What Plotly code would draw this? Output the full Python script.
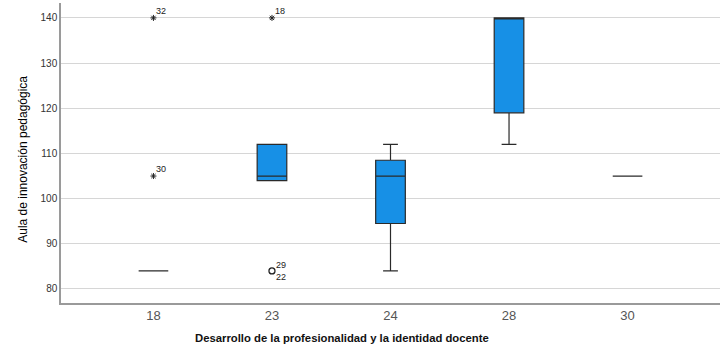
import plotly.graph_objects as go

categories = ["18", "23", "24", "28", "30"]
q1 = [84, 104, 94.5, 119, 105]
median = [84, 105, 105, 140, 105]
q3 = [84, 112, 108.5, 140, 105]
lower = [84, 104, 84, 112, 105]
upper = [84, 112, 112, 140, 105]

star_x = ["18", "18", "23"]
star_y = [140, 105, 140]
star_lbl = ["32", "30", "18"]

circ_x = ["23"]
circ_y = [84]
circ_lbl_top = ["29"]
circ_lbl_bot = ["22"]

yticks = [80, 90, 100, 110, 120, 130, 140]

x_title = "Desarrollo de la profesionalidad y la identidad docente"
y_title = "Aula de innovación pedagógica"

fig = go.Figure()
fig.add_trace(go.Box(
    x=categories, q1=q1, median=median, q3=q3,
    lowerfence=lower, upperfence=upper,
    fillcolor="#1790E6", line=dict(color="#2a2a2a", width=1.2),
    width=0.25, whiskerwidth=0.5, boxpoints=False, showlegend=False,
    hoverinfo="skip",
))
fig.add_trace(go.Scatter(
    x=star_x, y=star_y, mode="markers",
    marker=dict(symbol="asterisk-open", size=5, color="#222",
                line=dict(color="#222", width=1)),
    showlegend=False, hoverinfo="skip"))
fig.add_trace(go.Scatter(
    x=circ_x, y=circ_y, mode="markers",
    marker=dict(symbol="circle-open", size=6, color="#222",
                line=dict(color="#222", width=1.3)),
    showlegend=False, hoverinfo="skip"))

def cidx(c):
    return categories.index(c)

lab_font = dict(size=9, color="#222", family="Liberation Sans")
for x, y, t in zip(star_x, star_y, star_lbl):
    fig.add_annotation(x=cidx(x), y=y, text=t, showarrow=False, xshift=8, yshift=7,
                       font=lab_font)
for x, y, t in zip(circ_x, circ_y, circ_lbl_top):
    fig.add_annotation(x=cidx(x), y=y, text=t, showarrow=False, xshift=9, yshift=6,
                       font=lab_font)
for x, y, t in zip(circ_x, circ_y, circ_lbl_bot):
    fig.add_annotation(x=cidx(x), y=y, text=t, showarrow=False, xshift=9, yshift=-6,
                       font=lab_font)

# axis titles as paper annotations (positioned as in the reference)
fig.add_annotation(xref="paper", yref="paper", x=0.4257, y=-0.117,
                   yanchor="middle", xanchor="center", showarrow=False,
                   text="<b>" + x_title + "</b>",
                   font=dict(size=11.3, color="#111", family="Liberation Sans"))
fig.add_annotation(xref="paper", yref="paper", x=-0.058, y=0.48,
                   xanchor="center", yanchor="middle", showarrow=False,
                   textangle=-90, text=y_title,
                   font=dict(size=12, color="#000", family="Liberation Sans"))

fig.update_layout(
    width=728, height=354,
    margin=dict(l=61, r=8, t=3, b=51),
    paper_bgcolor="white", plot_bgcolor="white",
    font=dict(family="Liberation Sans", color="#333"),
    xaxis=dict(type="category", categoryorder="array", categoryarray=categories,
               range=[-0.78, 4.78], showgrid=False, showline=True,
               linecolor="#9a9a9a", linewidth=1.5, ticks="", automargin=False,
               tickfont=dict(size=13, color="#555")),
    yaxis=dict(range=[76.9, 143.3], tickvals=yticks, showgrid=True,
               gridcolor="#d6d6d6", gridwidth=1.3, zeroline=False, automargin=False,
               showline=True, linecolor="#9a9a9a", linewidth=1.5, ticks="",
               tickfont=dict(size=10, color="#333")),
)

fig.write_html("out.html", config={"displayModeBar": False},
               post_script="document.body.style.margin='0';")
